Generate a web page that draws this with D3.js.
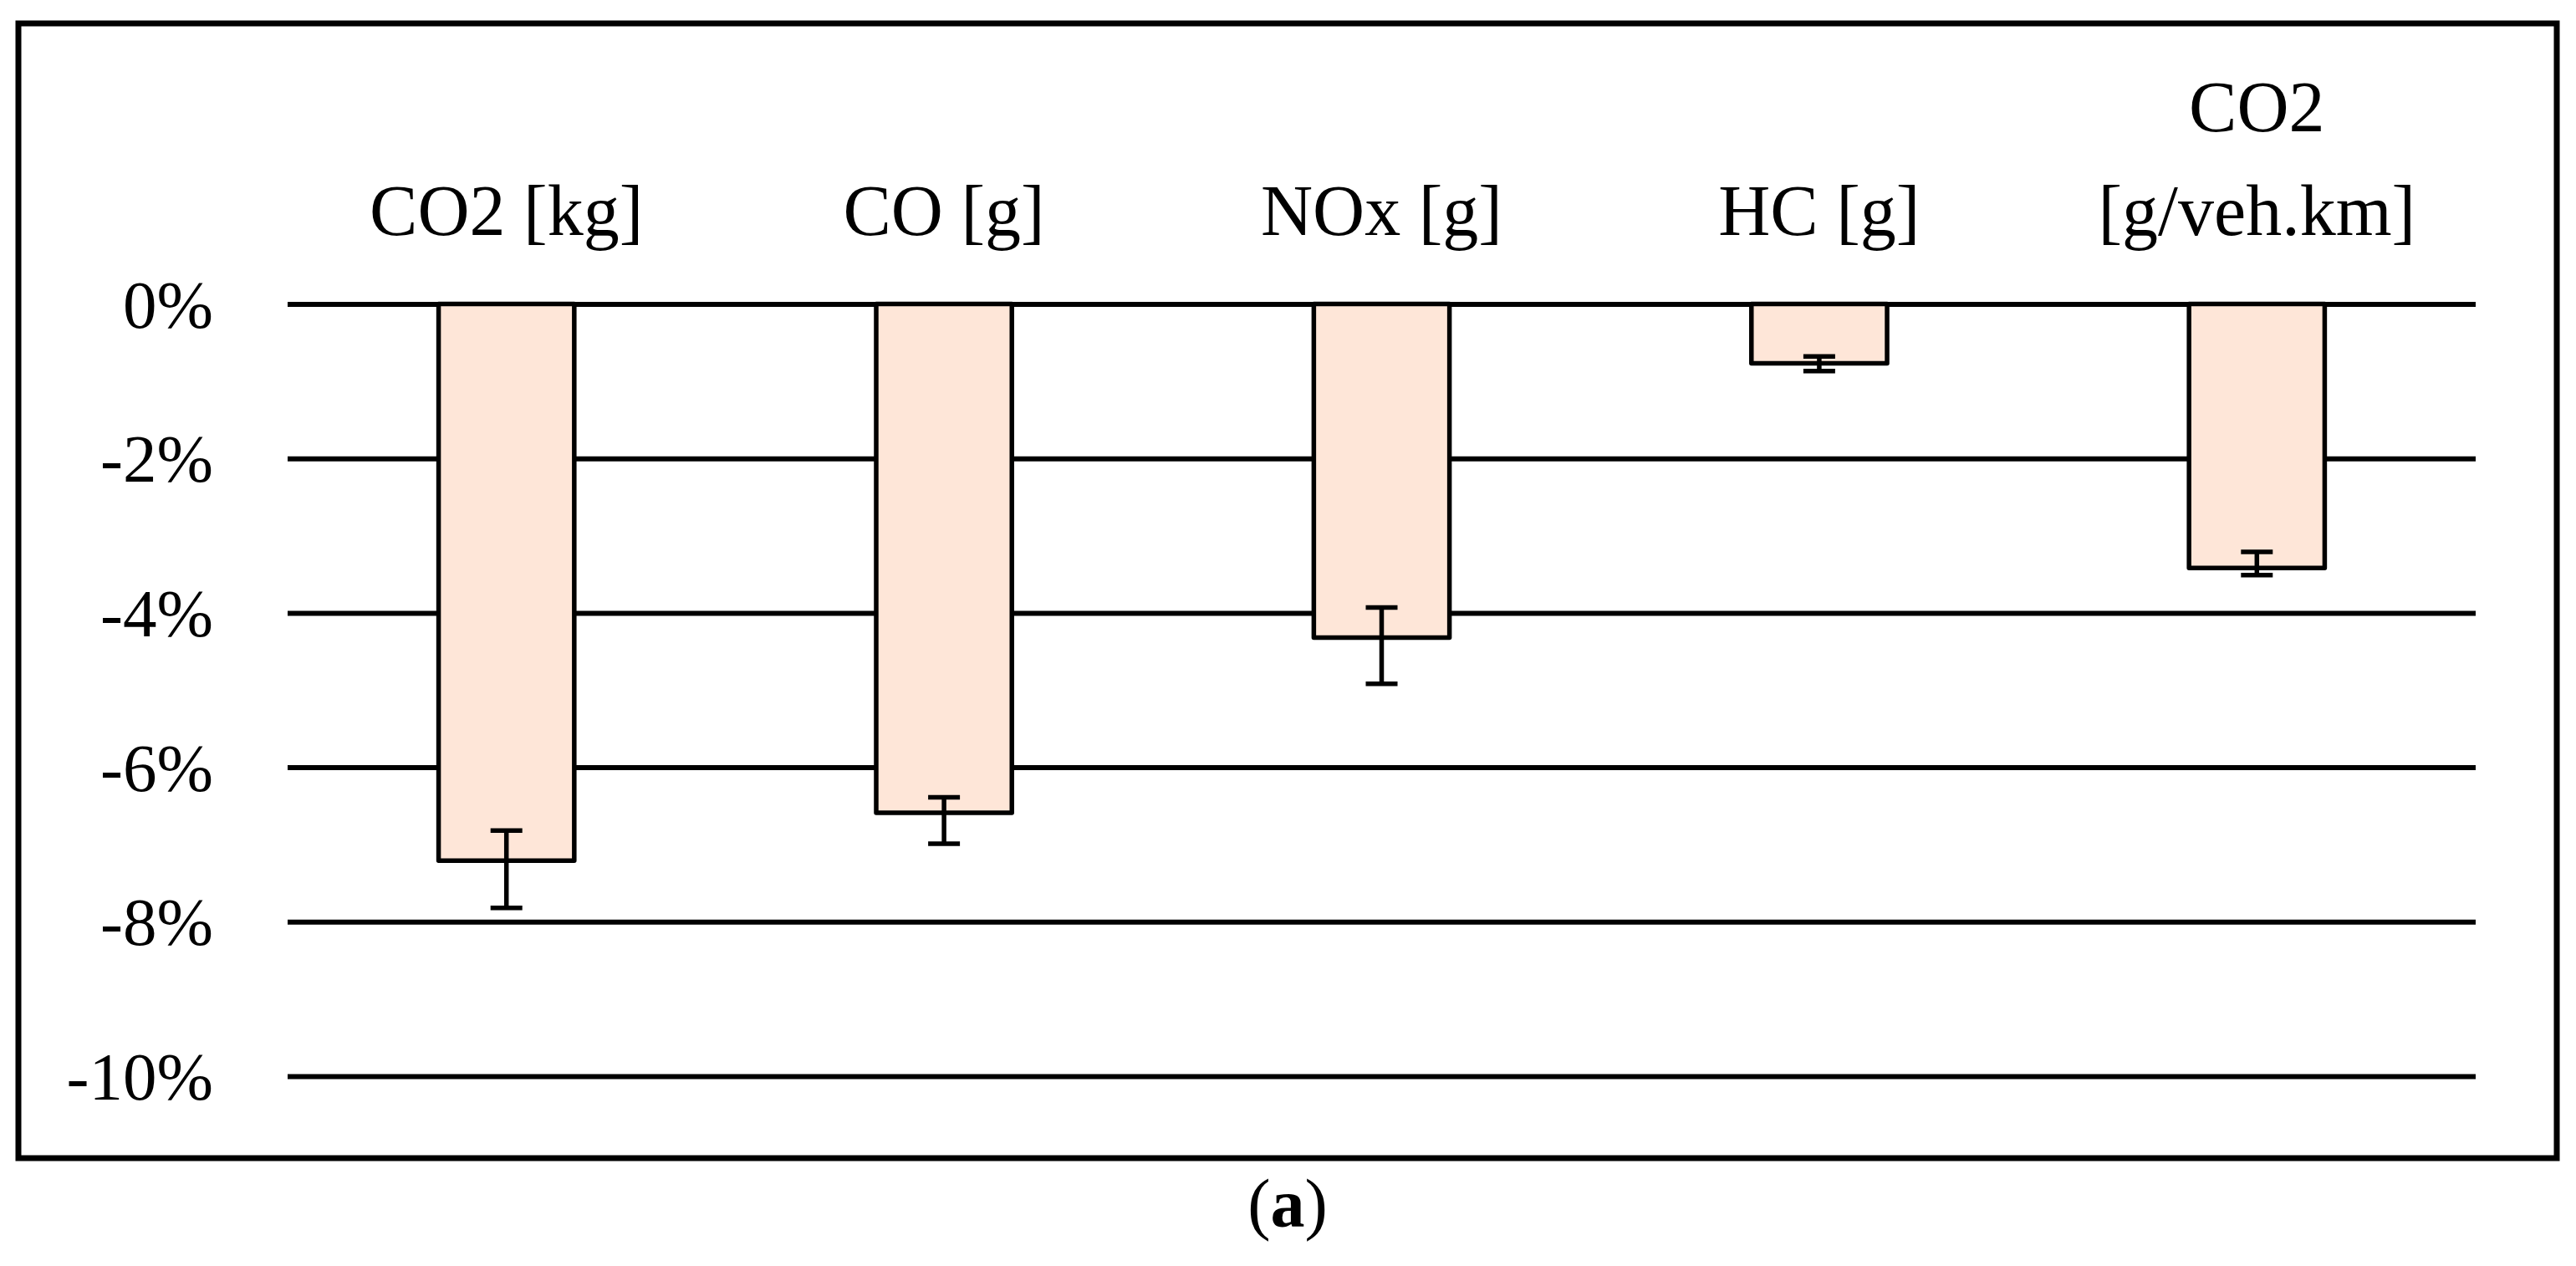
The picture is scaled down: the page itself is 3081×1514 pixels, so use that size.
<!DOCTYPE html>
<html>
<head>
<meta charset="utf-8">
<script src="https://cdn.jsdelivr.net/npm/d3@7"></script>
<style>
  html, body { margin: 0; padding: 0; background: #fff; }
  svg { display: block; }
  text { font-family: "Palatino Linotype", "Book Antiqua", Palatino, "Liberation Serif", serif; fill: #000; }
</style>
</head>
<body>
<script>
// ---- data ----
const categories = ["CO2 [kg]", "CO [g]", "NOx [g]", "HC [g]", "CO2 [g/veh.km]"];
const categoryLines = [["CO2 [kg]"], ["CO [g]"], ["NOx [g]"], ["HC [g]"], ["CO2", "[g/veh.km]"]];
const values = [-7.21, -6.59, -4.32, -0.77, -3.42];
const errTop = [-6.82, -6.39, -3.93, -0.68, -3.21];
const errBottom = [-7.82, -6.99, -4.92, -0.87, -3.51];
const yTicks = [0, -2, -4, -6, -8, -10];
const caption = "a";

// ---- layout ----
const W = 3081, H = 1514;
const plotLeft = 344, plotRight = 2961;
const svg = d3.select("body").append("svg").attr("width", W).attr("height", H);

// outer frame
svg.append("rect")
  .attr("x", 22).attr("y", 28).attr("width", 3036).attr("height", 1357)
  .attr("fill", "none").attr("stroke", "#000").attr("stroke-width", 7);

const x = d3.scaleBand().domain(categories).range([plotLeft, plotRight])
  .paddingInner(0.69).paddingOuter(0.345);
const y = d3.scaleLinear().domain([-10, 0]).range([1287, 363.5]);

// gridlines + y labels
const yAxis = d3.axisLeft(y).tickValues(yTicks)
  .tickSize(-(plotRight - plotLeft)).tickPadding(89)
  .tickFormat(d => d + "%");
const gy = svg.append("g").attr("transform", `translate(${plotLeft},0)`).call(yAxis);
gy.select(".domain").remove();
gy.selectAll(".tick line").attr("stroke", "#000").attr("stroke-width", 6);
gy.selectAll(".tick text").attr("font-size", 81).attr("font-family", null).attr("fill", "#000").attr("dy", "0.34em");

// bars
const data = categories.map((c, i) => ({ c, v: values[i], hi: errTop[i], lo: errBottom[i] }));
svg.append("g").selectAll("rect").data(data).join("rect")
  .attr("x", d => x(d.c)).attr("width", x.bandwidth())
  .attr("y", y(0)).attr("height", d => y(d.v) - y(0))
  .attr("fill", "#FEE6D8").attr("stroke", "#000").attr("stroke-width", 5.5)
  .attr("stroke-linejoin", "round");

// error bars
const capW = 38;
const eg = svg.append("g").attr("stroke", "#000").attr("stroke-width", 5.5);
data.forEach(d => {
  const cx = x(d.c) + x.bandwidth() / 2;
  eg.append("line").attr("x1", cx).attr("x2", cx).attr("y1", y(d.hi)).attr("y2", y(d.lo));
  eg.append("line").attr("x1", cx - capW / 2).attr("x2", cx + capW / 2).attr("y1", y(d.hi)).attr("y2", y(d.hi));
  eg.append("line").attr("x1", cx - capW / 2).attr("x2", cx + capW / 2).attr("y1", y(d.lo)).attr("y2", y(d.lo));
});

// category labels (above plot)
const lineGap = 124, baseY = 281;
categories.forEach((c, i) => {
  const lines = categoryLines[i];
  const t = svg.append("text").attr("text-anchor", "middle").attr("font-size", 86)
    .attr("x", x(c) + x.bandwidth() / 2);
  lines.forEach((ln, j) => {
    t.append("tspan").attr("x", x(c) + x.bandwidth() / 2)
      .attr("y", baseY - (lines.length - 1 - j) * lineGap).text(ln);
  });
});

// caption
const cap = svg.append("text").attr("x", 1540).attr("y", 1467).attr("text-anchor", "middle").attr("font-size", 82);
cap.append("tspan").text("(");
cap.append("tspan").attr("font-weight", "bold").text(caption);
cap.append("tspan").text(")");
</script>
</body>
</html>
